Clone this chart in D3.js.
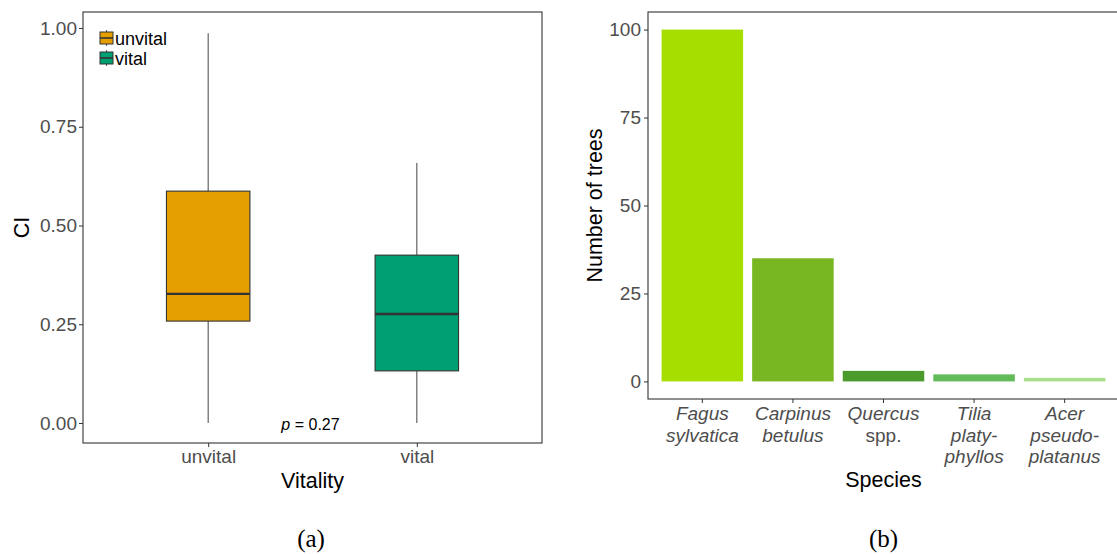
<!DOCTYPE html>
<html>
<head>
<meta charset="utf-8">
<script src="https://cdn.jsdelivr.net/npm/d3@7"></script>
<style>
  html, body { margin: 0; padding: 0; background: #fff; }
  svg { display: block; }
</style>
</head>
<body>
<script>
// ---------- Data ----------
const vitalityGroups = ["unvital", "vital"];
const boxLower   = [0.00, 0.00];   // lower whisker end
const boxQ1      = [0.258, 0.132];
const boxMedian  = [0.327, 0.276];
const boxQ3      = [0.587, 0.425];
const boxUpper   = [0.987, 0.658]; // upper whisker end
const boxColors  = ["#E69F00", "#009E73"];
const ciTicks    = [0, 0.25, 0.5, 0.75, 1.0];
const pLabelValue = "0.27";

const speciesLines = [
  ["Fagus", "sylvatica"],
  ["Carpinus", "betulus"],
  ["Quercus", "spp."],
  ["Tilia", "platy-", "phyllos"],
  ["Acer", "pseudo-", "platanus"]
];
const uprightLines  = ["spp."];
const speciesKeys   = ["Fagus sylvatica", "Carpinus betulus", "Quercus spp.", "Tilia platyphyllos", "Acer pseudoplatanus"];
const treeCounts    = [100, 35, 3, 2, 1];
const speciesColors = ["#A6DE00", "#78B722", "#4A9A2C", "#63BA58", "#A9DE8A"];
const countTicks    = [0, 25, 50, 75, 100];

// ---------- Setup ----------
const W = 1117, H = 554;
const SANS = "'Liberation Sans', Arial, Helvetica, sans-serif";
const SERIF = "'Liberation Serif', 'DejaVu Serif', serif";
const svg = d3.select("body").append("svg").attr("width", W).attr("height", H)
  .style("font-family", SANS);
const axisCol = "#4D4D4D", frameCol = "#333333";
const tickFont = 19, titleFont = 21.5;

function styleTicks(g) {
  g.select(".domain").remove();
  g.selectAll("line").attr("stroke", frameCol);
  g.selectAll("text").attr("fill", axisCol).style("font-size", tickFont + "px").style("font-family", SANS);
}

// ================= Panel (a) =================
const A = { left: 83, right: 542, top: 12, bottom: 443 };
const xA = d3.scalePoint().domain(vitalityGroups).range([A.left, A.right]).padding(0.6);
const yA = d3.scaleLinear().domain([-0.0506, 1.0405]).range([A.bottom, A.top]);
const gA = svg.append("g");

gA.append("rect").attr("x", A.left).attr("y", A.top)
  .attr("width", A.right - A.left).attr("height", A.bottom - A.top)
  .attr("fill", "none").attr("stroke", frameCol).attr("stroke-width", 1.1);

const gyA = gA.append("g").attr("transform", `translate(${A.left},0)`)
  .call(d3.axisLeft(yA).tickValues(ciTicks).tickFormat(d3.format(".2f")).tickSize(4).tickPadding(2));
styleTicks(gyA);

const gxA = gA.append("g").attr("transform", `translate(0,${A.bottom})`)
  .call(d3.axisBottom(xA).tickSize(4).tickPadding(3));
styleTicks(gxA);

const bw = xA.step() * 0.4;
vitalityGroups.forEach((g, i) => {
  const cx = xA(g);
  const grp = gA.append("g");
  grp.append("line").attr("x1", cx).attr("x2", cx).attr("y1", yA(boxQ3[i])).attr("y2", yA(boxUpper[i]))
    .attr("stroke", "#555").attr("stroke-width", 1.1);
  grp.append("line").attr("x1", cx).attr("x2", cx).attr("y1", yA(boxQ1[i])).attr("y2", yA(boxLower[i]))
    .attr("stroke", "#555").attr("stroke-width", 1.1);
  grp.append("rect").attr("x", cx - bw / 2).attr("y", yA(boxQ3[i]))
    .attr("width", bw).attr("height", yA(boxQ1[i]) - yA(boxQ3[i]))
    .attr("fill", boxColors[i]).attr("stroke", frameCol).attr("stroke-width", 1.1);
  grp.append("line").attr("x1", cx - bw / 2).attr("x2", cx + bw / 2)
    .attr("y1", yA(boxMedian[i])).attr("y2", yA(boxMedian[i]))
    .attr("stroke", frameCol).attr("stroke-width", 2.4);
});

const pText = gA.append("text")
  .attr("x", (xA(vitalityGroups[0]) + xA(vitalityGroups[1])) / 2 - 2)
  .attr("y", 430).attr("text-anchor", "middle")
  .style("font-size", "16px").attr("fill", "#000");
pText.append("tspan").attr("font-style", "italic").text("p");
pText.append("tspan").text(" = " + pLabelValue);

vitalityGroups.forEach((g, i) => {
  const lx = 100, ly = 32 + i * 20;
  const k = gA.append("g");
  k.append("line").attr("x1", lx + 6.5).attr("x2", lx + 6.5).attr("y1", ly - 2).attr("y2", ly + 14)
    .attr("stroke", "#555").attr("stroke-width", 1);
  k.append("rect").attr("x", lx).attr("y", ly).attr("width", 13).attr("height", 12)
    .attr("fill", boxColors[i]).attr("stroke", frameCol).attr("stroke-width", 1);
  k.append("line").attr("x1", lx).attr("x2", lx + 13).attr("y1", ly + 6).attr("y2", ly + 6)
    .attr("stroke", frameCol).attr("stroke-width", 1.6);
  k.append("text").attr("x", lx + 15).attr("y", ly + 12.5)
    .style("font-size", "18px").attr("fill", "#000").text(g);
});

gA.append("text").attr("x", (A.left + A.right) / 2).attr("y", 488).attr("text-anchor", "middle")
  .style("font-size", titleFont + "px").attr("fill", "#000").text("Vitality");
gA.append("text").attr("transform", `translate(29,${(A.top + A.bottom) / 2}) rotate(-90)`)
  .attr("text-anchor", "middle").style("font-size", titleFont + "px").attr("fill", "#000").text("CI");

// ================= Panel (b) =================
const B = { left: 648, right: 1119, top: 12, bottom: 399 };
const xB = d3.scaleBand().domain(speciesKeys).range([B.left, B.right]).paddingInner(0.1).paddingOuter(0.15);
const yB = d3.scaleLinear().domain([-5, 105]).range([B.bottom, B.top]);
const gB = svg.append("g");

gB.append("rect").attr("x", B.left).attr("y", B.top)
  .attr("width", B.right - B.left).attr("height", B.bottom - B.top)
  .attr("fill", "none").attr("stroke", frameCol).attr("stroke-width", 1.1);

const gyB = gB.append("g").attr("transform", `translate(${B.left},0)`)
  .call(d3.axisLeft(yB).tickValues(countTicks).tickFormat(d3.format("d")).tickSize(4).tickPadding(3));
styleTicks(gyB);

const gxB = gB.append("g").attr("transform", `translate(0,${B.bottom})`)
  .call(d3.axisBottom(xB).tickSize(4).tickFormat(() => ""));
styleTicks(gxB);
gxB.selectAll(".tick").each(function(d, i) {
  const t = d3.select(this).append("text").attr("y", 21).attr("text-anchor", "middle")
    .attr("fill", axisCol).style("font-size", tickFont + "px")
    .style("font-family", SANS);
  speciesLines[i].forEach((ln, j) => {
    t.append("tspan").attr("x", 0).attr("dy", j === 0 ? 0 : 21.5)
      .style("font-style", uprightLines.includes(ln) ? "normal" : "italic").text(ln);
  });
});

gB.selectAll("rect.bar").data(treeCounts).join("rect").attr("class", "bar")
  .attr("x", (d, i) => xB(speciesKeys[i]))
  .attr("width", xB.bandwidth())
  .attr("y", d => yB(d))
  .attr("height", d => yB(0) - yB(d))
  .attr("fill", (d, i) => speciesColors[i]);

const midB = xB(speciesKeys[2]) + xB.bandwidth() / 2;
gB.append("text").attr("x", midB).attr("y", 487).attr("text-anchor", "middle")
  .style("font-size", titleFont + "px").attr("fill", "#000").text("Species");
gB.append("text").attr("transform", `translate(602,${(B.top + B.bottom) / 2}) rotate(-90)`)
  .attr("text-anchor", "middle").style("font-size", titleFont + "px").attr("fill", "#000").text("Number of trees");

// captions
svg.append("text").attr("x", 311).attr("y", 547).attr("text-anchor", "middle")
  .style("font-family", SERIF).style("font-size", "25px").attr("fill", "#000").text("(a)");
svg.append("text").attr("x", midB).attr("y", 547).attr("text-anchor", "middle")
  .style("font-family", SERIF).style("font-size", "25px").attr("fill", "#000").text("(b)");
</script>
</body>
</html>
